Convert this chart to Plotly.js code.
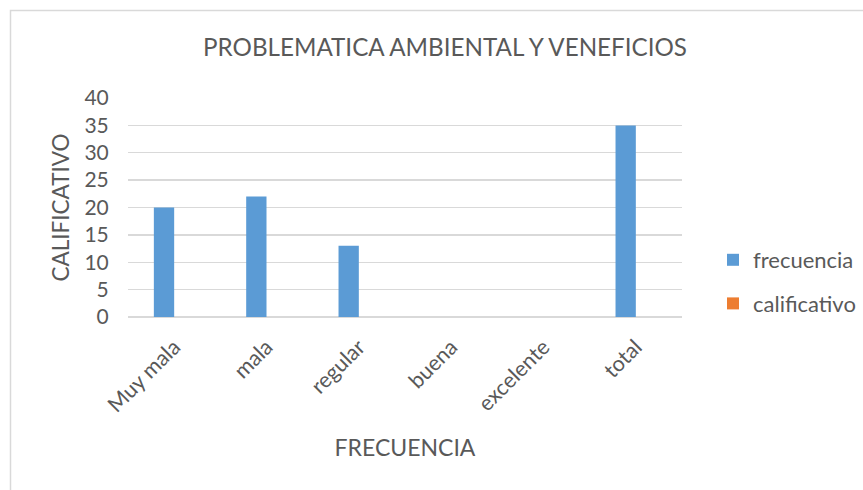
<!DOCTYPE html>
<html>
<head>
<meta charset="utf-8">
<script src="https://cdn.plot.ly/plotly-3.0.1.min.js"></script>
<style>
html,body{margin:0;padding:0;background:#fff;}
#chart{width:863px;height:490px;}
</style>
</head>
<body>
<div id="chart"></div>
<script>
const categories = ["Muy mala", "mala", "regular", "buena", "excelente", "total"];
const frecuencia = [20, 22, 13, 0, 0, 35];
const calificativo = [0, 0, 0, 0, 0, 0];
const yTicks = [0, 5, 10, 15, 20, 25, 30, 35, 40];

const W = 863, H = 490;
const mL = 128, mR = 181, mT = 98, mB = 173;
const pw = W - mL - mR, ph = H - mT - mB;
const px = x => (x - mL) / pw;
const py = y => (H - mB - y) / ph;

const font = "Lato, 'Open Sans', sans-serif";
const txt = "#595959";

const traces = [
  {type: "bar", name: "frecuencia", x: categories, y: frecuencia,
   marker: {color: "#5B9BD5"}, legendgroup: "a"},
  {type: "bar", name: "calificativo", x: categories, y: calificativo,
   marker: {color: "#ED7D31"}, legendgroup: "b"}
];

const layout = {
  width: W, height: H,
  margin: {l: mL, r: mR, t: mT, b: mB, pad: 0, autoexpand: false},
  paper_bgcolor: "#fff", plot_bgcolor: "#fff",
  barmode: "group", bargap: 0.56, bargroupgap: 0,
  font: {family: font, color: txt, size: 21},
  title: {text: "PROBLEMATICA AMBIENTAL Y VENEFICIOS",
          font: {family: font, size: 24.2, color: txt},
          x: 445 / W, xref: "container", xanchor: "center",
          y: 1 - 48 / H, yref: "container", yanchor: "middle"},
  xaxis: {
    type: "category", tickangle: -45, automargin: false,
    showgrid: false, showline: false, zeroline: false,
    ticks: "outside", ticklen: 8, tickcolor: "rgba(0,0,0,0)",
    tickfont: {family: font, size: 21.5, color: txt},
    title: {text: "FRECUENCIA", font: {family: font, size: 23, color: txt}, standoff: 23}
  },
  yaxis: {
    range: [0, 40], tickvals: yTicks, ticktext: yTicks.map(String),
    showgrid: true, gridcolor: "#d9d9d9", gridwidth: 1.3,
    zeroline: true, zerolinecolor: "#d9d9d9", zerolinewidth: 1.3,
    showline: false, automargin: false,
    ticks: "outside", ticklen: 14, tickcolor: "rgba(0,0,0,0)",
    tickfont: {family: font, size: 21, color: txt},
    title: {text: "CALIFICATIVO", font: {family: font, size: 22.5, color: txt}, standoff: 8}
  },
  legend: {
    x: px(713), xanchor: "left", y: py(282), yanchor: "middle",
    font: {family: font, size: 22, color: txt},
    tracegroupgap: 12, bgcolor: "rgba(0,0,0,0)"
  },
  showlegend: true,
  shapes: [{
    type: "rect", xref: "paper", yref: "paper",
    x0: px(10.5), x1: px(900), y0: py(520), y1: py(10.5),
    line: {color: "#d9d9d9", width: 1.5}, fillcolor: "rgba(0,0,0,0)", layer: "below"
  }]
};

Plotly.newPlot("chart", traces, layout, {displayModeBar: false, staticPlot: true});
</script>
</body>
</html>
